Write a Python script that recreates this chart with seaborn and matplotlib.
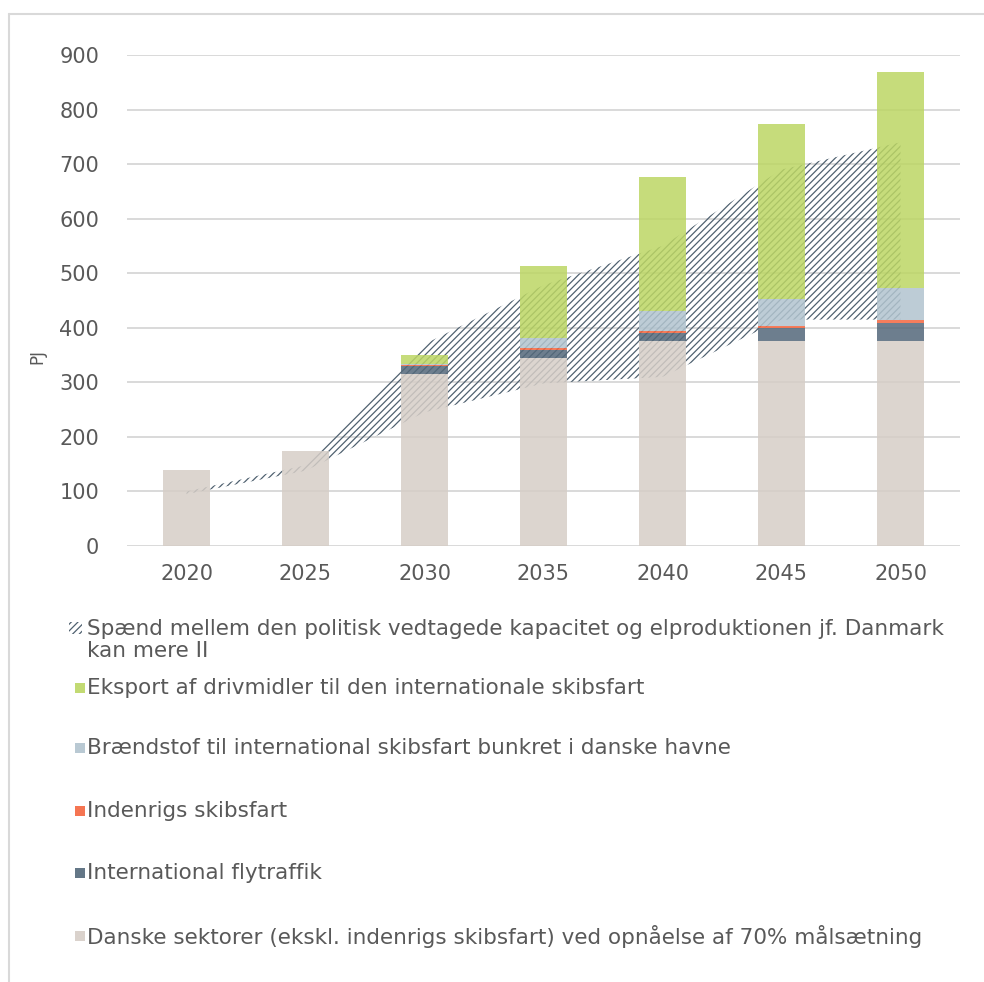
import numpy as np
import pandas as pd
import matplotlib.pyplot as plt
import seaborn as sns
from matplotlib.patches import Rectangle
from matplotlib.lines import Line2D

# --- data (PJ) ---
years = ['2020', '2025', '2030', '2035', '2040', '2045', '2050']
danske = [140, 174, 315, 345, 375, 375, 375]
flytraffik = [0, 0, 15, 14, 16, 25, 33]
indenrigs = [0, 1, 2, 4, 3, 4, 6]
bunker = [0, 0, 2, 18, 36, 48, 58]
eksport = [0, 0, 16, 132, 246, 321, 397]

# range band (politisk vedtaget kapacitet vs. Danmark kan mere II)
band_low = [95, 138, 245, 298, 310, 415, 415]
band_high = [100, 148, 370, 478, 550, 690, 740]

labels = [
    'Danske sektorer (ekskl. indenrigs skibsfart) ved opnåelse af 70% målsætning',
    'International flytraffik',
    'Indenrigs skibsfart',
    'Brændstof til international skibsfart bunkret i danske havne',
    'Eksport af drivmidler til den internationale skibsfart',
]
band_label = 'Spænd mellem den politisk vedtagede kapacitet og elproduktionen jf. Danmark\nkan mere II'
colors = ['#d6cec7', '#53687a', '#f4663f', '#b2c4cf', '#bcd664']
hatch_col = '#4f6170'
text_col = '#595959'

sns.set_style('white')
plt.rcParams['font.family'] = ['DejaVu Sans']
plt.rcParams['hatch.linewidth'] = 0.9
plt.rcParams['hatch.color'] = hatch_col

fig = plt.figure(figsize=(9.84, 9.82), dpi=100)
ax = fig.add_axes([127 / 984, 1 - 546 / 982, (960 - 127) / 984, (546 - 55) / 982])

# hatched band behind the bars
x = np.arange(len(years))
ax.fill_between(x, band_low, band_high, facecolor='none', edgecolor=hatch_col,
                hatch='/////', linewidth=0, zorder=1)

# stacked bars
bottom = np.zeros(len(years))
for vals, col in zip([danske, flytraffik, indenrigs, bunker, eksport], colors):
    sns.barplot(x=years, y=vals, bottom=bottom, color=col, saturation=1, width=0.4,
                alpha=0.85, errorbar=None, linewidth=0, zorder=2, ax=ax)
    bottom = bottom + np.array(vals)

ax.set_xlim(-0.5, len(years) - 0.5)
ax.set_ylim(0, 900)
ax.set_yticks(range(0, 1000, 100))
ax.grid(axis='y', color='#d9d9d9', linewidth=1.4)
ax.set_axisbelow(True)
for s in ax.spines.values():
    s.set_visible(False)
ax.tick_params(length=0, labelsize=15, labelcolor=text_col)
ax.tick_params(axis='y', pad=20)
ax.tick_params(axis='x', pad=13)
ax.set_xlabel('')
ax.set_ylabel('')
fig.text(37 / 984, 1 - 357 / 982, 'PJ', rotation=90, ha='center', va='center',
         fontsize=12, color=text_col)

# legend drawn by hand (reverse order, one entry per row)
def fy(py):
    return 1 - py / 982

fig.patches.append(Rectangle((69 / 984, fy(634)), 13 / 984, 12 / 982, transform=fig.transFigure,
                             facecolor='none', edgecolor=hatch_col, hatch='/////', linewidth=0))
fig.text(87 / 984, fy(640), band_label, ha='left', va='center', fontsize=15.5,
         color=text_col, linespacing=1.15)
rows_y = [936, 873, 811, 748, 688]
for lab, col, py in zip(labels, colors, rows_y):
    fig.patches.append(Rectangle((75 / 984, fy(py + 5)), 10 / 984, 10 / 982,
                                 transform=fig.transFigure, facecolor=col,
                                 edgecolor='none', alpha=0.9))
    fig.text(87 / 984, fy(py), lab, ha='left', va='center', fontsize=15.5, color=text_col)

# light frame around the chart area
fig.add_artist(Line2D([9 / 984, 9 / 984], [0, fy(14)], color='#d9d9d9', linewidth=1.5))
fig.add_artist(Line2D([9 / 984, 1], [fy(14), fy(14)], color='#d9d9d9', linewidth=1.5))

fig.savefig('out.png', dpi=100)
